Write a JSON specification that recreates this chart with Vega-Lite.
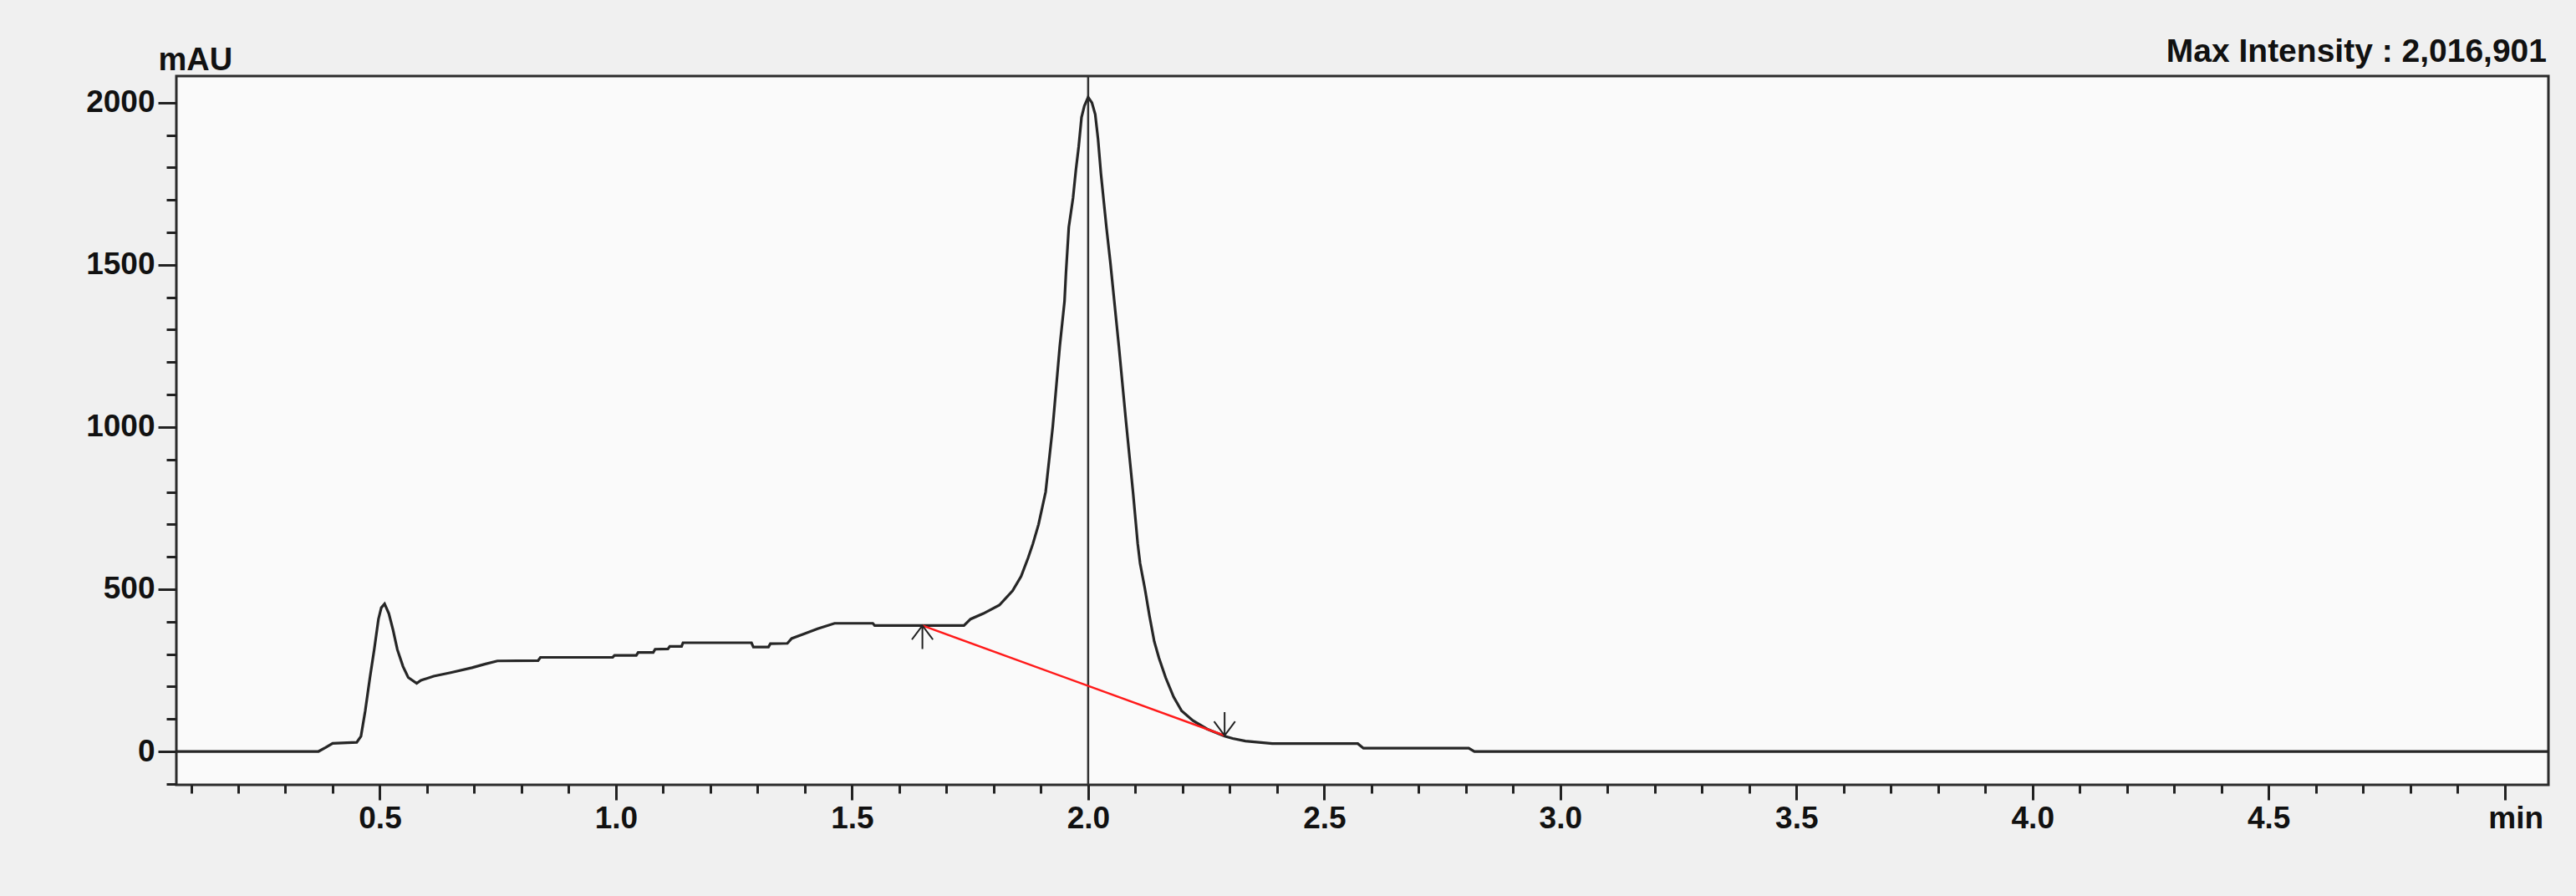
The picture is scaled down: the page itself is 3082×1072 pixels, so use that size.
{
  "$schema": "https://vega.github.io/schema/vega-lite/v6.json",
  "width": 2838,
  "height": 848,
  "autosize": {"type": "none"},
  "padding": {"left": 211, "top": 91, "right": 33, "bottom": 133},
  "background": "#f0f0f0",
  "config": {
    "view": {"fill": "#fafafa", "stroke": "#2b2b2b", "strokeWidth": 3},
    "font": "Liberation Sans"
  },
  "title": {
    "text": "Max Intensity : 2,016,901",
    "anchor": "end",
    "frame": "group",
    "fontSize": 39,
    "fontWeight": "bold",
    "font": "Liberation Sans",
    "color": "#111111",
    "baseline": "alphabetic",
    "offset": 12,
    "dx": -2,
    "dy": 72
  },
  "datasets": {
    "trace": [
      {"t": 0.069, "v": 0}, {"t": 0.37, "v": 0}, {"t": 0.385, "v": 12}, {"t": 0.40, "v": 25},
      {"t": 0.451, "v": 28}, {"t": 0.460, "v": 47}, {"t": 0.469, "v": 125}, {"t": 0.479, "v": 228},
      {"t": 0.488, "v": 314}, {"t": 0.497, "v": 408}, {"t": 0.503, "v": 443}, {"t": 0.510, "v": 455},
      {"t": 0.519, "v": 425}, {"t": 0.528, "v": 374}, {"t": 0.537, "v": 314}, {"t": 0.549, "v": 262},
      {"t": 0.560, "v": 228}, {"t": 0.578, "v": 210}, {"t": 0.587, "v": 219}, {"t": 0.614, "v": 232},
      {"t": 0.650, "v": 243}, {"t": 0.695, "v": 258}, {"t": 0.722, "v": 269}, {"t": 0.749, "v": 279},
      {"t": 0.835, "v": 280}, {"t": 0.840, "v": 290}, {"t": 0.993, "v": 290}, {"t": 0.997, "v": 296},
      {"t": 1.043, "v": 296}, {"t": 1.047, "v": 305}, {"t": 1.079, "v": 305}, {"t": 1.083, "v": 315},
      {"t": 1.110, "v": 316}, {"t": 1.114, "v": 324}, {"t": 1.139, "v": 324}, {"t": 1.142, "v": 335},
      {"t": 1.287, "v": 335}, {"t": 1.291, "v": 322}, {"t": 1.323, "v": 322}, {"t": 1.327, "v": 332},
      {"t": 1.363, "v": 333}, {"t": 1.372, "v": 348}, {"t": 1.399, "v": 363}, {"t": 1.427, "v": 378},
      {"t": 1.463, "v": 395}, {"t": 1.544, "v": 395}, {"t": 1.548, "v": 388}, {"t": 1.737, "v": 388},
      {"t": 1.751, "v": 408}, {"t": 1.778, "v": 425}, {"t": 1.812, "v": 451}, {"t": 1.840, "v": 495},
      {"t": 1.858, "v": 540}, {"t": 1.873, "v": 597}, {"t": 1.883, "v": 640}, {"t": 1.895, "v": 700},
      {"t": 1.910, "v": 800}, {"t": 1.925, "v": 1000}, {"t": 1.940, "v": 1250}, {"t": 1.950, "v": 1388},
      {"t": 1.953, "v": 1474}, {"t": 1.959, "v": 1616}, {"t": 1.968, "v": 1706}, {"t": 1.974, "v": 1792},
      {"t": 1.980, "v": 1865}, {"t": 1.986, "v": 1955}, {"t": 1.992, "v": 1990}, {"t": 2.000, "v": 2017},
      {"t": 2.008, "v": 2000}, {"t": 2.015, "v": 1964}, {"t": 2.021, "v": 1887}, {"t": 2.027, "v": 1783},
      {"t": 2.033, "v": 1697}, {"t": 2.039, "v": 1612}, {"t": 2.047, "v": 1508}, {"t": 2.053, "v": 1422},
      {"t": 2.065, "v": 1250}, {"t": 2.080, "v": 1020}, {"t": 2.095, "v": 800}, {"t": 2.105, "v": 640},
      {"t": 2.110, "v": 580}, {"t": 2.120, "v": 503}, {"t": 2.130, "v": 417}, {"t": 2.140, "v": 339},
      {"t": 2.150, "v": 288}, {"t": 2.164, "v": 228}, {"t": 2.181, "v": 168}, {"t": 2.198, "v": 125},
      {"t": 2.222, "v": 95}, {"t": 2.252, "v": 69}, {"t": 2.289, "v": 47}, {"t": 2.306, "v": 40},
      {"t": 2.333, "v": 32}, {"t": 2.390, "v": 24}, {"t": 2.571, "v": 24}, {"t": 2.583, "v": 10},
      {"t": 2.806, "v": 10}, {"t": 2.818, "v": 0}, {"t": 5.0926, "v": 0}
    ],
    "baseline": [
      {"t": 1.649, "v": 388},
      {"t": 2.289, "v": 49}
    ],
    "marks": [
      {"t": 1.649, "v": 388, "dir": "up"},
      {"t": 2.289, "v": 49, "dir": "down"}
    ],
    "cursor": [
      {"t": 2.0}
    ]
  },
  "layer": [
    {
      "data": {"name": "cursor"},
      "mark": {"type": "rule", "color": "#333333", "strokeWidth": 2.5},
      "encoding": {
        "x": {"field": "t", "type": "quantitative", "scale": {"domain": [0.069, 5.0926], "nice": false, "zero": false}}
      }
    },
    {
      "data": {"name": "trace"},
      "mark": {"type": "line", "color": "#262626", "strokeWidth": 3.2, "clip": true},
      "encoding": {
        "x": {
          "field": "t", "type": "quantitative",
          "scale": {"domain": [0.069, 5.0926], "nice": false, "zero": false},
          "axis": {
            "title": null,
            "grid": false,
            "domain": false,
            "values": [0.1,0.2,0.3,0.4,0.5,0.6,0.7,0.8,0.9,1.0,1.1,1.2,1.3,1.4,1.5,1.6,1.7,1.8,1.9,2.0,2.1,2.2,2.3,2.4,2.5,2.6,2.7,2.8,2.9,3.0,3.1,3.2,3.3,3.4,3.5,3.6,3.7,3.8,3.9,4.0,4.1,4.2,4.3,4.4,4.5,4.6,4.7,4.8,4.9,5.0],
            "labelExpr": "round(datum.value*10) % 5 === 0 ? (round(datum.value*10) === 50 ? 'min' : format(datum.value, '.1f')) : ''",
            "labelOverlap": false,
            "labelFlush": false,
            "labelBound": false,
            "labelFontSize": 37,
            "labelFontWeight": "bold",
            "labelColor": "#111111",
            "labelPadding": 4,
            "labelOffset": {"condition": {"test": "round(datum.value*10) === 50", "value": 13}, "value": 0},
            "tickColor": "#222222",
            "tickWidth": 3,
            "tickSize": {"condition": {"test": "round(datum.value*10) % 5 === 0", "value": 18}, "value": 10}
          }
        },
        "y": {
          "field": "v", "type": "quantitative",
          "scale": {"domain": [-103, 2082], "nice": false, "zero": false},
          "axis": {
            "title": "mAU",
            "titleAngle": 0,
            "titleAlign": "left",
            "titleBaseline": "alphabetic",
            "titleX": -22,
            "titleY": -8,
            "titleFontSize": 38,
            "titleFontWeight": "bold",
            "titleColor": "#111111",
            "grid": false,
            "domain": false,
            "values": [-100,0,100,200,300,400,500,600,700,800,900,1000,1100,1200,1300,1400,1500,1600,1700,1800,1900,2000],
            "labelExpr": "datum.value % 500 === 0 ? format(datum.value, 'd') : ''",
            "labelOverlap": false,
            "labelFlush": false,
            "labelBound": false,
            "labelFontSize": 37,
            "labelFontWeight": "bold",
            "labelColor": "#111111",
            "labelPadding": 4,
            "tickColor": "#222222",
            "tickWidth": 3,
            "tickSize": {"condition": {"test": "datum.value % 500 === 0", "value": 22}, "value": 12}
          }
        }
      }
    },
    {
      "data": {"name": "baseline"},
      "mark": {"type": "line", "color": "#ff1a1a", "strokeWidth": 2.5},
      "encoding": {
        "x": {"field": "t", "type": "quantitative"},
        "y": {"field": "v", "type": "quantitative"}
      }
    },
    {
      "data": {"name": "marks"},
      "mark": {"type": "point", "filled": false, "size": 784, "strokeWidth": 2, "color": "#222222", "opacity": 1},
      "encoding": {
        "x": {"field": "t", "type": "quantitative"},
        "y": {"field": "v", "type": "quantitative"},
        "shape": {
          "field": "dir", "type": "nominal", "legend": null,
          "scale": {"domain": ["up", "down"], "range": ["M0,0L0,2M-0.9,1.2L0,0L0.9,1.2", "M0,0L0,-2M-0.9,-1.2L0,0L0.9,-1.2"]}
        }
      }
    }
  ]
}
